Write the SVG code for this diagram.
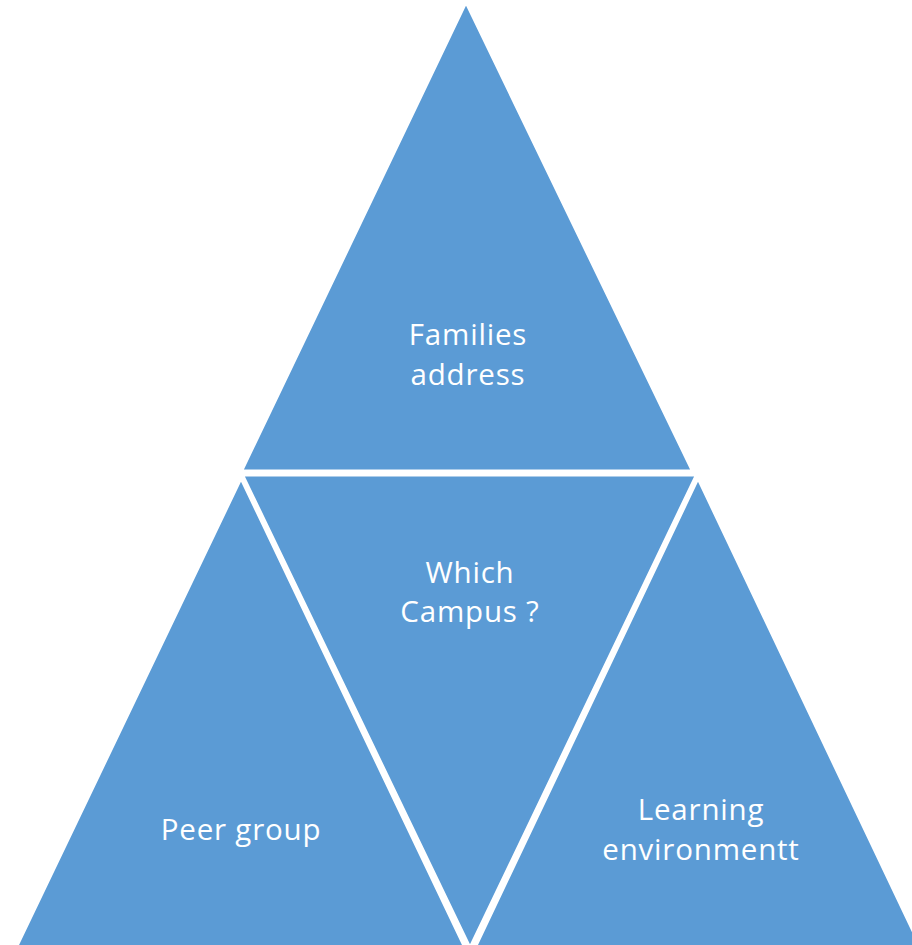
<svg xmlns="http://www.w3.org/2000/svg" width="912" height="945" viewBox="0 0 912 945">
<style>
.tri{fill:#5B9BD5;stroke:#FFFFFF;stroke-width:5;stroke-linejoin:miter}
.lbl{font-family:"Open Sans","Noto Sans",sans-serif;font-size:29.5px;letter-spacing:0.8px;fill:#FFFFFF;text-anchor:middle}
</style>
<rect width="912" height="945" fill="#FFFFFF"/>
<g id="node-top">
<polygon class="tri" points="466,0 240,472 694,472"/>
<text class="lbl" x="468" y="345">Families</text>
<text class="lbl" x="468" y="385">address</text>
</g>
<g id="node-left">
<polygon class="tri" points="241,476 11,956 470,956"/>
<text class="lbl" x="241" y="840">Peer group</text>
</g>
<g id="node-right">
<polygon class="tri" points="698,476 470,956 926,956"/>
<text class="lbl" x="701" y="820">Learning</text>
<text class="lbl" x="701" y="860">environmentt</text>
</g>
<g id="node-center">
<polygon class="tri" points="241,474 698,474 470,950"/>
<text class="lbl" x="470" y="583">Which</text>
<text class="lbl" x="470" y="622">Campus ?</text>
</g>
<g id="connectors"></g>
</svg>
